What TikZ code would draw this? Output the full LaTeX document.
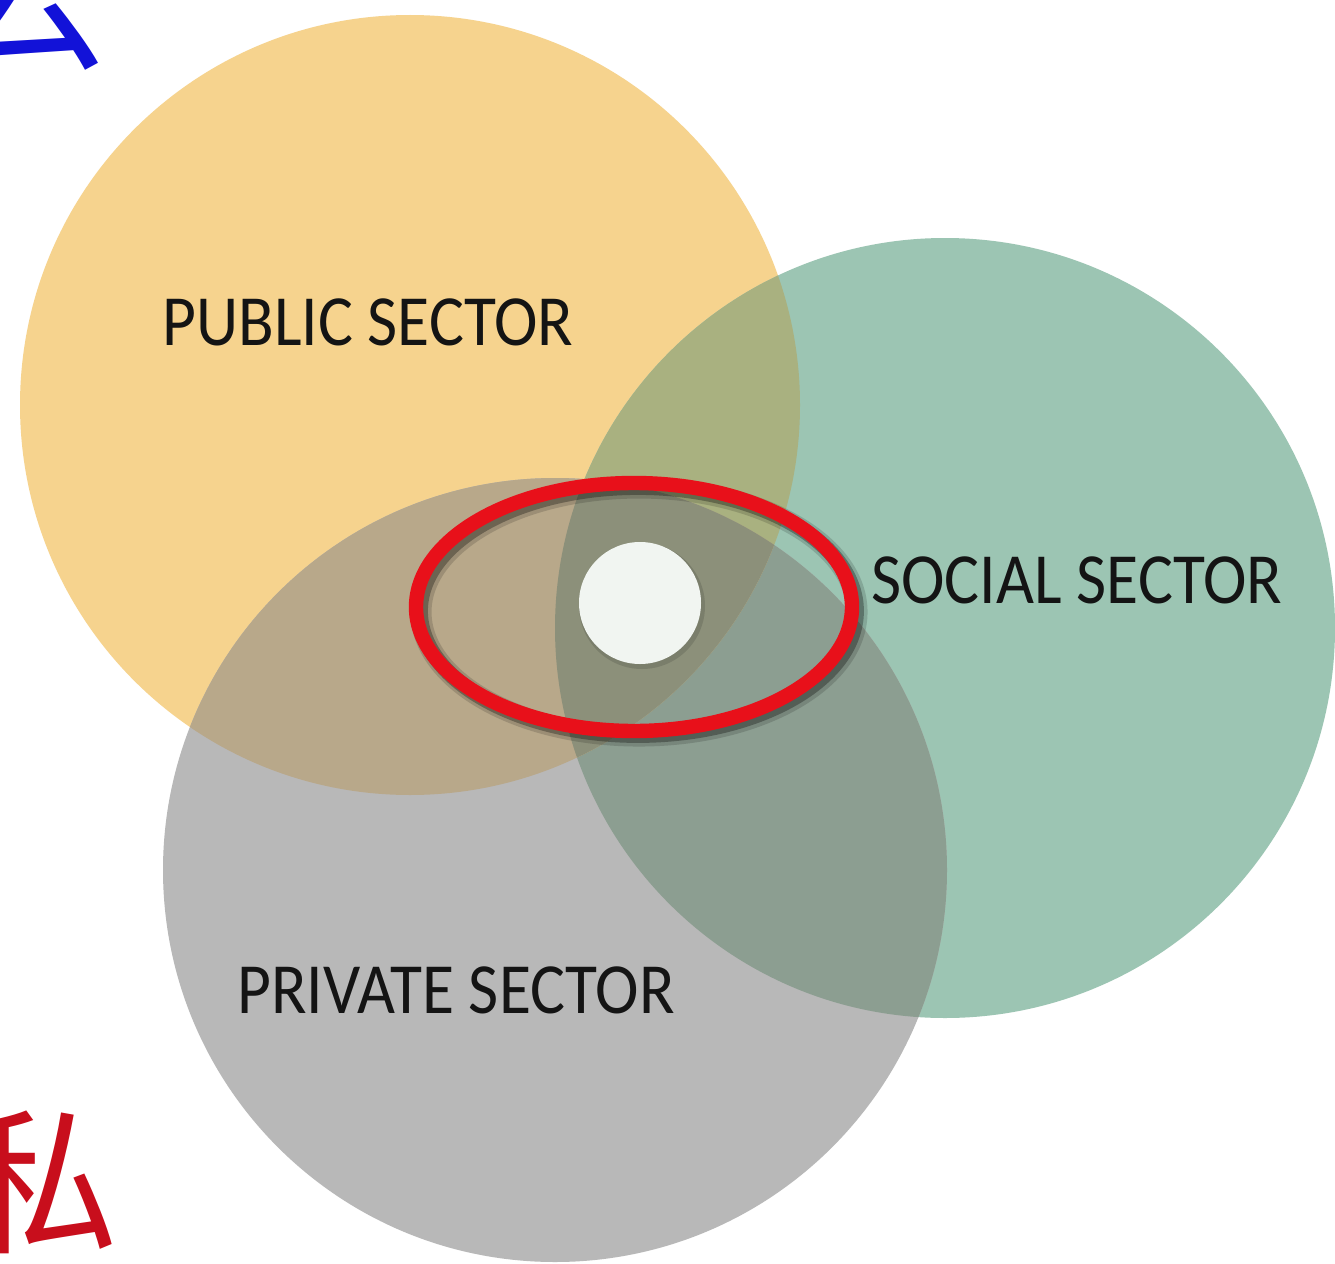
\documentclass[tikz,border=0pt]{standalone}
\usepackage{fontspec}
\setmainfont{Carlito}
\newfontfamily\sectorfont[FakeStretch=0.91]{Carlito}
\newfontfamily\cjk{Noto Sans CJK SC}
\definecolor{pubcol}{HTML}{F6D38E}
\definecolor{socol}{HTML}{9CC5B3}
\definecolor{privcol}{HTML}{B8B8B8}
\definecolor{pubsoc}{HTML}{A9B180}
\definecolor{pubpriv}{HTML}{B8A88A}
\definecolor{privsoc}{HTML}{8C9E91}
\definecolor{allthree}{HTML}{8C907A}
\definecolor{ringred}{HTML}{E8101A}
\definecolor{dotwhite}{HTML}{F1F5F1}
\definecolor{kanjiblue}{HTML}{1212D8}
\definecolor{kanjired}{HTML}{C80E1C}
\tikzset{
  sectorlabel/.style={font=\sectorfont\fontsize{41}{48}\selectfont, text=black!92, inner sep=0pt},
  kanji/.style={font=\cjk\fontsize{#1}{#1}\selectfont, inner sep=0pt},
}
\begin{document}
\begin{tikzpicture}[x=0.02cm,y=-0.02cm]
\useasboundingbox (0,0) rectangle (1335,1264);
\fill[white] (0,0) rectangle (1335,1264);
% the three sectors
\fill[pubcol] (410,405) circle (390);
\fill[socol] (945,628) circle (390);
\fill[privcol] (555,870) circle (392);
% overlaps
\begin{scope}
  \clip (945,628) circle (390);
  \fill[privsoc] (555,870) circle (392);
\end{scope}
\begin{scope}
  \clip (410,405) circle (390);
  \fill[pubsoc] (945,628) circle (390);
  \fill[pubpriv] (555,870) circle (392);
  \clip (945,628) circle (390);
  \fill[allthree] (555,870) circle (392);
\end{scope}
% ring round the middle, with its shadow
\draw[black, opacity=.15, line width=12pt] (639,612) ellipse (218 and 124);
\draw[black, opacity=.3, line width=9pt] (638,611) ellipse (218 and 124);
\draw[ringred, line width=8.2pt] (634,607) ellipse (218 and 124);
% white dot
\fill[black, opacity=.12] (642,606) circle (63);
\fill[dotwhite] (640,603) circle (61);
% labels
\node[sectorlabel] (public) at (368,322) {PUBLIC SECTOR};
\node[sectorlabel] (social) at (1077,580) {SOCIAL SECTOR};
\node[sectorlabel] (private) at (456,990) {PRIVATE SECTOR};
\node[kanji=100, text=kanjiblue] (gong) at (24,-8) {公};
\node[kanji=90, text=kanjired] (si) at (40,1182) {私};
\end{tikzpicture}
\end{document}
